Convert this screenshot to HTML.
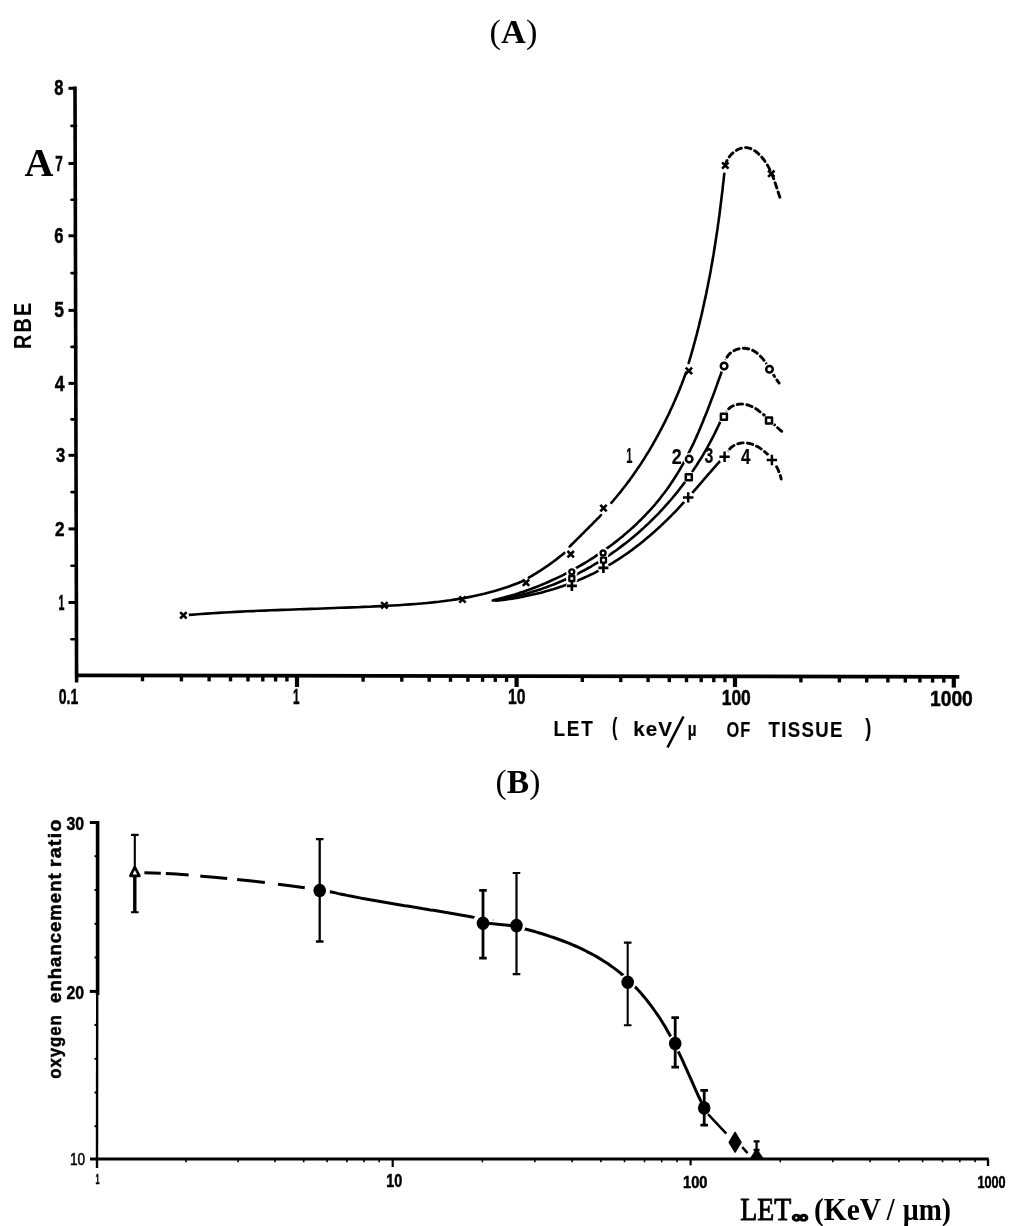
<!DOCTYPE html>
<html lang="en"><head><meta charset="utf-8"><title>Figure</title>
<style>
html,body{margin:0;padding:0;background:#fff;}
body{width:1024px;height:1226px;overflow:hidden;}
svg{display:block;}
.ser{font-family:"Liberation Serif",serif;}
.san{font-family:"Liberation Sans",sans-serif;font-weight:bold;}
</style></head><body>
<svg width="1024" height="1226" viewBox="0 0 1024 1226">
<rect width="1024" height="1226" fill="#fff"/>

<text class="ser" x="489.6" y="43.4" font-size="34" textLength="47.8" lengthAdjust="spacingAndGlyphs">(<tspan font-weight="bold">A</tspan>)</text>
<text class="ser" x="495.6" y="792.5" font-size="34" textLength="44.8" lengthAdjust="spacingAndGlyphs">(<tspan font-weight="bold">B</tspan>)</text>
<text class="ser" x="24.5" y="176.2" font-size="40" font-weight="bold">A</text>
<g stroke="#000" fill="none" stroke-linecap="butt">
<line x1="75" y1="86.5" x2="76.6" y2="682.5" stroke-width="3.6"/>
<line x1="75" y1="675.3" x2="959.3" y2="676.8" stroke-width="3.8"/>
<line x1="68.5" y1="88.3" x2="76" y2="88.3" stroke-width="3"/>
<line x1="68.5" y1="163.5" x2="76" y2="163.5" stroke-width="3"/>
<line x1="68.5" y1="235.8" x2="76" y2="235.8" stroke-width="3"/>
<line x1="68.5" y1="310.4" x2="76" y2="310.4" stroke-width="3"/>
<line x1="68.5" y1="383.4" x2="76" y2="383.4" stroke-width="3"/>
<line x1="68.5" y1="455.3" x2="76" y2="455.3" stroke-width="3"/>
<line x1="68.5" y1="528.9" x2="76" y2="528.9" stroke-width="3"/>
<line x1="68.5" y1="602.5" x2="76" y2="602.5" stroke-width="3"/>
<line x1="71.5" y1="125.9" x2="76" y2="125.9" stroke-width="2.6" stroke-linecap="round"/>
<line x1="71.5" y1="199.7" x2="76" y2="199.7" stroke-width="2.6" stroke-linecap="round"/>
<line x1="71.5" y1="273.1" x2="76" y2="273.1" stroke-width="2.6" stroke-linecap="round"/>
<line x1="71.5" y1="346.9" x2="76" y2="346.9" stroke-width="2.6" stroke-linecap="round"/>
<line x1="71.5" y1="419.4" x2="76" y2="419.4" stroke-width="2.6" stroke-linecap="round"/>
<line x1="71.5" y1="492.1" x2="76" y2="492.1" stroke-width="2.6" stroke-linecap="round"/>
<line x1="71.5" y1="565.7" x2="76" y2="565.7" stroke-width="2.6" stroke-linecap="round"/>
<line x1="71.5" y1="639.2" x2="76" y2="639.2" stroke-width="2.6" stroke-linecap="round"/>
<line x1="142.5" y1="675" x2="142.5" y2="681.3" stroke-width="3.4"/>
<line x1="181.4" y1="675" x2="181.4" y2="681.4" stroke-width="3.4"/>
<line x1="209.1" y1="675" x2="209.1" y2="681.4" stroke-width="3.4"/>
<line x1="230.5" y1="675" x2="230.5" y2="681.4" stroke-width="3.4"/>
<line x1="248.0" y1="675" x2="248.0" y2="681.5" stroke-width="3.4"/>
<line x1="262.8" y1="675" x2="262.8" y2="681.5" stroke-width="3.4"/>
<line x1="275.6" y1="675" x2="275.6" y2="681.5" stroke-width="3.4"/>
<line x1="286.9" y1="675" x2="286.9" y2="681.5" stroke-width="3.4"/>
<line x1="297.0" y1="675" x2="297.0" y2="687" stroke-width="4.2"/>
<line x1="363.1" y1="675" x2="363.1" y2="681.7" stroke-width="3.4"/>
<line x1="401.8" y1="675" x2="401.8" y2="681.7" stroke-width="3.4"/>
<line x1="429.2" y1="675" x2="429.2" y2="681.8" stroke-width="3.4"/>
<line x1="450.5" y1="675" x2="450.5" y2="681.8" stroke-width="3.4"/>
<line x1="467.9" y1="675" x2="467.9" y2="681.8" stroke-width="3.4"/>
<line x1="482.6" y1="675" x2="482.6" y2="681.8" stroke-width="3.4"/>
<line x1="495.3" y1="675" x2="495.3" y2="681.9" stroke-width="3.4"/>
<line x1="506.6" y1="675" x2="506.6" y2="681.9" stroke-width="3.4"/>
<line x1="516.6" y1="675" x2="516.6" y2="687" stroke-width="4.2"/>
<line x1="582.3" y1="675" x2="582.3" y2="682.0" stroke-width="3.4"/>
<line x1="620.8" y1="675" x2="620.8" y2="682.1" stroke-width="3.4"/>
<line x1="648.1" y1="675" x2="648.1" y2="682.1" stroke-width="3.4"/>
<line x1="669.3" y1="675" x2="669.3" y2="682.1" stroke-width="3.4"/>
<line x1="686.5" y1="675" x2="686.5" y2="682.2" stroke-width="3.4"/>
<line x1="701.2" y1="675" x2="701.2" y2="682.2" stroke-width="3.4"/>
<line x1="713.8" y1="675" x2="713.8" y2="682.2" stroke-width="3.4"/>
<line x1="725.0" y1="675" x2="725.0" y2="682.2" stroke-width="3.4"/>
<line x1="735.0" y1="675" x2="735.0" y2="687" stroke-width="4.2"/>
<line x1="800.9" y1="675" x2="800.9" y2="682.4" stroke-width="3.4"/>
<line x1="839.4" y1="675" x2="839.4" y2="682.4" stroke-width="3.4"/>
<line x1="866.7" y1="675" x2="866.7" y2="682.5" stroke-width="3.4"/>
<line x1="887.9" y1="675" x2="887.9" y2="682.5" stroke-width="3.4"/>
<line x1="905.3" y1="675" x2="905.3" y2="682.5" stroke-width="3.4"/>
<line x1="919.9" y1="675" x2="919.9" y2="682.5" stroke-width="3.4"/>
<line x1="932.6" y1="675" x2="932.6" y2="682.6" stroke-width="3.4"/>
<line x1="943.8" y1="675" x2="943.8" y2="682.6" stroke-width="3.4"/>
<line x1="953.8" y1="675" x2="953.8" y2="687.6" stroke-width="4.2"/>
</g>
<text class="san" transform="translate(54.30 95.29) scale(0.772 1)" font-size="21.48" stroke="#000" stroke-width="0.50">8</text>
<text class="san" transform="translate(55.30 171.30) scale(0.596 1)" font-size="22.69" stroke="#000" stroke-width="0.50">7</text>
<text class="san" transform="translate(54.30 242.79) scale(0.772 1)" font-size="21.48" stroke="#000" stroke-width="0.50">6</text>
<text class="san" transform="translate(54.30 316.78) scale(0.802 1)" font-size="21.79" stroke="#000" stroke-width="0.50">5</text>
<text class="san" transform="translate(54.70 390.80) scale(0.820 1)" font-size="21.53" stroke="#000" stroke-width="0.50">4</text>
<text class="san" transform="translate(56.00 462.14) scale(0.795 1)" font-size="20.85" stroke="#000" stroke-width="0.50">3</text>
<text class="san" transform="translate(55.00 536.00) scale(0.823 1)" font-size="20.79" stroke="#000" stroke-width="0.50">2</text>
<text class="san" transform="translate(58.60 610.00) scale(0.497 1)" font-size="21.38" stroke="#000" stroke-width="0.50">1</text>
<text class="san" transform="translate(58.75 704.27) scale(0.622 1)" font-size="22.61" stroke="#000" stroke-width="0.50">0.1</text>
<text class="san" transform="translate(293.00 704.00) scale(0.519 1)" font-size="22.55" stroke="#000" stroke-width="0.50">1</text>
<text class="san" transform="translate(508.00 704.48) scale(0.704 1)" font-size="22.33" stroke="#000" stroke-width="0.50">10</text>
<text class="san" transform="translate(721.70 705.08) scale(0.781 1)" font-size="22.33" stroke="#000" stroke-width="0.50">100</text>
<text class="san" transform="translate(929.90 705.87) scale(0.855 1)" font-size="22.61" stroke="#000" stroke-width="0.50">1000</text>
<text class="san" transform="translate(30.90 348.90) rotate(-90) scale(0.841 1)" font-size="23.71" letter-spacing="2.50">RBE</text>
<text class="san" transform="translate(553.40 736.40) scale(0.881 1)" font-size="21.53" stroke="#000" stroke-width="0.15" letter-spacing="2.00">LET</text>
<text class="san" transform="translate(612.00 735.22) scale(0.704 1)" font-size="23.06" stroke="#000" stroke-width="0.15">(</text>
<text class="san" transform="translate(633.20 736.40) scale(1.012 1)" font-size="20.41" stroke="#000" stroke-width="0.15" letter-spacing="1.00">keV</text>
<text class="san" transform="translate(687.70 736.41) scale(0.776 1)" font-size="19.73" stroke="#000" stroke-width="0.15">µ</text>
<text class="san" transform="translate(726.40 736.59) scale(0.773 1)" font-size="21.20" stroke="#000" stroke-width="0.15" letter-spacing="1.50">OF</text>
<text class="san" transform="translate(768.60 736.79) scale(0.878 1)" font-size="21.20" stroke="#000" stroke-width="0.15" letter-spacing="1.50">TISSUE</text>
<text class="san" transform="translate(865.20 735.72) scale(0.783 1)" font-size="23.06" stroke="#000" stroke-width="0.15">)</text>
<line x1="667.5" y1="747.5" x2="683.5" y2="716.5" stroke="#000" stroke-width="2.6"/>
<g stroke="#000" fill="none" stroke-width="2.6" stroke-linecap="round" stroke-linejoin="round">
<path d="M183.4 615.4 L189.2 614.9 L195.0 614.5 L200.8 614.0 L206.6 613.6 L212.3 613.2 L218.1 612.9 L223.9 612.5 L229.7 612.2 L235.5 611.9 L241.3 611.6 L247.1 611.3 L252.9 611.1 L258.7 610.8 L264.5 610.6 L270.4 610.3 L276.2 610.1 L282.0 609.9 L287.8 609.7 L293.6 609.5 L299.4 609.3 L305.2 609.1 L311.0 608.9 L316.9 608.7 L322.7 608.5 L328.5 608.3 L334.3 608.0 L340.1 607.8 L345.9 607.6 L351.8 607.4 L357.6 607.2 L363.4 606.9 L369.2 606.7 L375.0 606.4 L380.8 606.1 L386.6 605.8 L392.5 605.5 L398.3 605.2 L404.1 604.8 L409.9 604.4 L415.7 604.0 L421.5 603.5 L427.2 603.0 L433.0 602.4 L438.8 601.8 L444.5 601.0 L450.3 600.3 L456.0 599.4 L461.7 598.5 L467.4 597.4 L473.1 596.3 L478.7 595.1 L484.3 593.8 L489.9 592.3 L495.5 590.8 L501.1 589.1 L506.6 587.3 L512.1 585.3 L517.6 583.2 L523.0 581.0"/>
<path d="M528.8 577.6 L529.4 577.2 L530.1 576.9 L530.7 576.5 L531.3 576.1 L532.0 575.8 L532.6 575.4 L533.2 575.0 L533.9 574.6 L534.5 574.2 L535.1 573.9 L535.7 573.5 L536.4 573.1 L537.0 572.7 L537.6 572.3 L538.2 571.9 L538.8 571.5 L539.5 571.1 L540.1 570.8 L540.7 570.4 L541.3 570.0 L541.9 569.6 L542.5 569.2 L543.1 568.7 L543.8 568.3 L544.4 567.9 L545.0 567.5 L545.6 567.1 L546.2 566.7 L546.8 566.3 L547.4 565.9 L548.0 565.5 L548.6 565.0 L549.2 564.6 L549.8 564.2 L550.4 563.8 L551.0 563.3 L551.6 562.9 L552.2 562.5 L552.8 562.0 L553.4 561.6 L553.9 561.2 L554.5 560.7 L555.1 560.3 L555.7 559.9 L556.3 559.4 L556.9 559.0 L557.4 558.5 L558.0 558.1 L558.6 557.6 L559.2 557.2 L559.8 556.7 L560.3 556.2 L560.9 555.8 L561.5 555.3 L562.0 554.9 L562.6 554.4 L563.2 553.9 L563.7 553.5 L564.3 553.0"/>
<path d="M569.6 546.6 L570.1 546.1 L570.7 545.5 L571.2 545.0 L571.7 544.5 L572.3 544.0 L572.8 543.4 L573.3 542.9 L573.9 542.4 L574.4 541.8 L575.0 541.3 L575.5 540.8 L576.0 540.2 L576.6 539.7 L577.1 539.2 L577.6 538.7 L578.2 538.1 L578.7 537.6 L579.2 537.1 L579.8 536.5 L580.3 536.0 L580.8 535.5 L581.4 534.9 L581.9 534.4 L582.4 533.9 L583.0 533.3 L583.5 532.8 L584.0 532.3 L584.6 531.7 L585.1 531.2 L585.6 530.7 L586.1 530.2 L586.7 529.6 L587.2 529.1 L587.7 528.6 L588.3 528.0 L588.8 527.5 L589.3 527.0 L589.9 526.4 L590.4 525.9 L590.9 525.4 L591.5 524.8 L592.0 524.3 L592.5 523.8 L593.1 523.2 L593.6 522.7 L594.1 522.2 L594.6 521.6 L595.2 521.1 L595.7 520.6 L596.2 520.0 L596.8 519.5 L597.3 518.9 L597.8 518.4 L598.4 517.9 L598.9 517.3 L599.4 516.8 L599.9 516.3 L600.5 515.7 L601.0 515.2"/>
<path d="M611.3 502.9 L613.0 501.0 L614.6 499.0 L616.3 497.0 L617.9 495.0 L619.5 493.1 L621.2 491.1 L622.7 489.0 L624.3 487.0 L625.9 485.0 L627.4 482.9 L629.0 480.9 L630.5 478.8 L632.0 476.7 L633.5 474.6 L634.9 472.5 L636.4 470.4 L637.8 468.3 L639.3 466.2 L640.7 464.1 L642.1 461.9 L643.5 459.8 L644.8 457.6 L646.2 455.4 L647.5 453.2 L648.9 451.1 L650.2 448.9 L651.5 446.7 L652.8 444.4 L654.0 442.2 L655.3 440.0 L656.5 437.7 L657.8 435.5 L659.0 433.2 L660.2 431.0 L661.4 428.7 L662.6 426.4 L663.7 424.2 L664.9 421.9 L666.0 419.6 L667.1 417.3 L668.3 415.0 L669.4 412.6 L670.4 410.3 L671.5 408.0 L672.6 405.7 L673.6 403.3 L674.7 401.0 L675.7 398.6 L676.7 396.3 L677.7 393.9 L678.7 391.5 L679.7 389.2 L680.6 386.8 L681.6 384.4 L682.5 382.0 L683.4 379.6 L684.3 377.2 L685.2 374.8 L686.1 372.4"/>
<path d="M688.7 363.0 L689.6 359.8 L690.6 356.7 L691.5 353.5 L692.4 350.4 L693.3 347.2 L694.1 344.1 L695.0 340.9 L695.8 337.8 L696.7 334.6 L697.5 331.4 L698.3 328.3 L699.1 325.1 L699.8 321.9 L700.6 318.7 L701.4 315.6 L702.1 312.4 L702.8 309.2 L703.5 306.0 L704.2 302.8 L704.9 299.6 L705.6 296.4 L706.3 293.2 L706.9 290.0 L707.6 286.8 L708.2 283.6 L708.8 280.4 L709.5 277.2 L710.1 274.0 L710.7 270.8 L711.2 267.6 L711.8 264.4 L712.4 261.1 L712.9 257.9 L713.5 254.7 L714.0 251.5 L714.5 248.3 L715.0 245.0 L715.5 241.8 L716.0 238.6 L716.5 235.3 L717.0 232.1 L717.5 228.9 L717.9 225.6 L718.4 222.4 L718.8 219.2 L719.3 215.9 L719.7 212.7 L720.1 209.4 L720.5 206.2 L720.9 202.9 L721.3 199.7 L721.7 196.4 L722.1 193.2 L722.5 189.9 L722.8 186.7 L723.2 183.4 L723.6 180.2 L723.9 176.9 L724.3 173.7"/>
<path d="M725.4 165.7 L725.8 164.0 L726.3 162.4 L726.9 160.8 L727.7 159.3 L728.6 157.8 L729.6 156.4 L730.7 155.1 L731.9 153.8 L733.2 152.7 L734.5 151.6 L735.9 150.7 L737.3 149.8 L738.8 149.1 L740.3 148.5 L741.8 148.1 L743.3 147.7 L744.8 147.6 L746.3 147.6 L747.8 147.8 L749.3 148.1 L750.7 148.6 L752.2 149.3 L753.5 150.0 L754.9 150.9 L756.2 151.8 L757.5 152.9 L758.7 154.0 L759.9 155.2 L761.1 156.4 L762.2 157.7 L763.3 159.0 L764.3 160.3 L765.2 161.7 L766.1 163.1 L767.0 164.5 L767.9 165.9 L768.7 167.4 L769.4 168.8 L770.1 170.3 L770.8 171.8 L771.5 173.3 L772.2 174.8 L772.8 176.4 L773.4 177.9 L773.9 179.5 L774.5 181.0 L775.0 182.6 L775.6 184.1 L776.1 185.7 L776.6 187.2 L777.1 188.8 L777.6 190.4 L778.1 191.9 L778.6 193.5 L779.1 195.0 L779.6 196.5 L780.1 198.0 L780.6 199.5 L781.2 201.0" stroke-dasharray="5.5 4.2" stroke-width="2.9"/>
<path d="M492.7 600.4 L495.5 599.7 L498.3 599.0 L501.1 598.3 L503.9 597.6 L506.7 596.8 L509.5 596.0 L512.2 595.2 L515.0 594.4 L517.8 593.5 L520.5 592.6 L523.3 591.7 L526.0 590.7 L528.8 589.8 L531.5 588.8 L534.2 587.7 L536.9 586.7 L539.6 585.6 L542.3 584.5 L545.0 583.4 L547.7 582.2 L550.3 581.0 L553.0 579.8 L555.6 578.6 L558.3 577.3 L560.9 576.1 L563.5 574.8 L566.1 573.4 L568.7 572.1 L571.3 570.7 L573.8 569.3 L576.4 567.9 L578.9 566.4 L581.4 565.0 L584.0 563.5 L586.5 562.0 L588.9 560.5 L591.4 558.9 L593.9 557.3 L596.3 555.7 L598.7 554.1 L601.1 552.5 L603.5 550.8 L605.9 549.1 L608.3 547.4 L610.6 545.7 L612.9 543.9 L615.3 542.1 L617.5 540.4 L619.8 538.5 L622.1 536.7 L624.3 534.8 L626.5 533.0 L628.7 531.1 L630.9 529.1 L633.0 527.2 L635.2 525.2 L637.3 523.2 L639.3 521.2 L641.4 519.2 L643.4 517.1 L645.5 515.0 L647.4 512.9 L649.4 510.8 L651.4 508.7 L653.3 506.5 L655.2 504.3 L657.0 502.1 L658.9 499.9 L660.7 497.6 L662.4 495.3 L664.2 493.0 L665.9 490.7 L667.6 488.4 L669.3 486.0 L670.9 483.6 L672.5 481.2 L674.1 478.8 L675.7 476.3 L677.2 473.8 L678.7 471.4 L680.2 468.8 L681.6 466.3 L683.1 463.8 L684.5 461.2 L685.8 458.6 L687.2 456.0 L688.5 453.4 L689.8 450.8 L691.1 448.2 L692.4 445.6 L693.7 442.9 L694.9 440.2 L696.1 437.6 L697.3 434.9 L698.5 432.2 L699.6 429.5 L700.8 426.8 L701.9 424.1 L703.0 421.4 L704.1 418.6 L705.2 415.9 L706.3 413.2 L707.4 410.5 L708.4 407.7 L709.5 405.0 L710.5 402.3 L711.5 399.5 L712.6 396.8 L713.6 394.1 L714.6 391.4 L715.6 388.6 L716.6 385.9 L717.5 383.2 L718.5 380.5 L719.5 377.8 L720.5 375.1 L721.4 372.4 L722.4 369.7 L723.4 367.1"/>
<path d="M723.9 366.3 L724.1 364.6 L724.5 363.0 L724.9 361.5 L725.5 360.0 L726.1 358.7 L726.8 357.4 L727.6 356.2 L728.4 355.1 L729.3 354.1 L730.3 353.2 L731.3 352.3 L732.4 351.6 L733.6 350.9 L734.7 350.3 L735.9 349.7 L737.1 349.3 L738.4 348.9 L739.7 348.7 L741.0 348.5 L742.3 348.3 L743.6 348.3 L744.9 348.3 L746.2 348.5 L747.5 348.7 L748.7 348.9 L750.0 349.3 L751.2 349.7 L752.4 350.2 L753.6 350.8 L754.7 351.5 L755.8 352.2 L756.9 353.0 L757.9 353.9 L758.9 354.8 L759.9 355.7 L760.9 356.7 L761.9 357.8 L762.8 358.9 L763.7 360.0 L764.6 361.1 L765.4 362.3 L766.3 363.5 L767.1 364.7 L767.9 365.9 L768.7 367.2 L769.5 368.4 L770.3 369.7 L771.1 370.9 L771.8 372.1 L772.6 373.3 L773.3 374.5 L774.1 375.7 L774.8 376.9 L775.5 378.0 L776.2 379.1 L777.0 380.1 L777.7 381.2 L778.4 382.1 L779.1 383.0" stroke-dasharray="5.5 4.2" stroke-width="2.9"/>
<path d="M493.7 600.3 L496.3 599.9 L498.9 599.5 L501.5 599.1 L504.0 598.6 L506.6 598.1 L509.1 597.6 L511.7 597.1 L514.2 596.5 L516.7 596.0 L519.3 595.3 L521.8 594.7 L524.3 594.1 L526.8 593.4 L529.3 592.7 L531.7 592.0 L534.2 591.2 L536.7 590.5 L539.1 589.7 L541.6 588.9 L544.0 588.0 L546.4 587.2 L548.8 586.3 L551.2 585.4 L553.6 584.5 L556.0 583.5 L558.4 582.5 L560.7 581.5 L563.1 580.5 L565.4 579.5 L567.8 578.4 L570.1 577.4 L572.4 576.3 L574.7 575.2 L577.0 574.0 L579.3 572.9 L581.5 571.7 L583.8 570.5 L586.0 569.3 L588.3 568.0 L590.5 566.8 L592.7 565.5 L594.9 564.2 L597.1 562.9 L599.3 561.5 L601.4 560.2 L603.6 558.8 L605.7 557.4 L607.9 556.0 L610.0 554.6 L612.1 553.1 L614.2 551.7 L616.3 550.2 L618.3 548.7 L620.4 547.1 L622.4 545.6 L624.4 544.1 L626.5 542.5 L628.5 540.9 L630.5 539.3 L632.4 537.7 L634.4 536.0 L636.3 534.4 L638.3 532.7 L640.2 531.0 L642.1 529.3 L644.0 527.6 L645.9 525.8 L647.8 524.1 L649.6 522.3 L651.4 520.5 L653.3 518.7 L655.1 516.9 L656.9 515.1 L658.7 513.3 L660.4 511.4 L662.2 509.5 L663.9 507.6 L665.6 505.7 L667.3 503.8 L669.0 501.9 L670.7 500.0 L672.4 498.0 L674.0 496.0 L675.6 494.1 L677.3 492.1 L678.9 490.0 L680.4 488.0 L682.0 486.0 L683.6 483.9 L685.1 481.9 L686.6 479.8 L688.1 477.7 L689.6 475.6 L691.1 473.5 L692.5 471.4 L693.9 469.3 L695.4 467.1 L696.8 465.0 L698.1 462.8 L699.5 460.6 L700.9 458.5 L702.2 456.3 L703.5 454.1 L704.8 451.8 L706.1 449.6 L707.4 447.4 L708.6 445.1 L709.8 442.9 L711.0 440.6 L712.2 438.3 L713.4 436.0 L714.6 433.7 L715.7 431.4 L716.8 429.1 L717.9 426.8 L719.0 424.5 L720.1 422.1 L721.1 419.8 L722.1 417.4"/>
<path d="M723.6 416.9 L724.1 415.5 L724.7 414.1 L725.4 412.9 L726.1 411.7 L726.9 410.7 L727.8 409.7 L728.7 408.8 L729.6 408.0 L730.6 407.2 L731.7 406.6 L732.7 406.0 L733.8 405.5 L735.0 405.1 L736.1 404.7 L737.3 404.5 L738.5 404.2 L739.7 404.1 L740.8 404.0 L742.0 404.1 L743.2 404.1 L744.4 404.3 L745.6 404.5 L746.7 404.7 L747.9 405.0 L749.0 405.4 L750.1 405.8 L751.2 406.3 L752.3 406.8 L753.4 407.4 L754.5 408.0 L755.6 408.6 L756.7 409.3 L757.7 410.0 L758.8 410.8 L759.8 411.6 L760.9 412.4 L761.9 413.2 L762.9 414.0 L763.9 414.9 L764.9 415.8 L765.9 416.7 L766.9 417.6 L767.9 418.5 L768.8 419.4 L769.8 420.3 L770.8 421.2 L771.7 422.1 L772.6 423.1 L773.6 424.0 L774.5 424.8 L775.4 425.7 L776.3 426.6 L777.2 427.4 L778.1 428.2 L779.0 429.0 L779.8 429.8 L780.7 430.5 L781.6 431.2 L782.4 431.9" stroke-dasharray="5.5 4.2" stroke-width="2.9"/>
<path d="M496.0 600.8 L498.3 600.5 L500.6 600.2 L502.9 600.0 L505.2 599.7 L507.6 599.3 L509.9 599.0 L512.2 598.6 L514.5 598.3 L516.8 597.9 L519.1 597.5 L521.4 597.0 L523.7 596.6 L526.0 596.1 L528.3 595.6 L530.6 595.1 L532.9 594.6 L535.2 594.1 L537.5 593.5 L539.7 593.0 L542.0 592.4 L544.3 591.8 L546.5 591.1 L548.8 590.5 L551.1 589.8 L553.3 589.2 L555.6 588.5 L557.8 587.7 L560.0 587.0 L562.2 586.3 L564.5 585.5 L566.7 584.7 L568.9 583.9 L571.1 583.1 L573.3 582.2 L575.4 581.4 L577.6 580.5 L579.8 579.6 L581.9 578.7 L584.1 577.7 L586.2 576.8 L588.3 575.8 L590.5 574.8 L592.6 573.8 L594.7 572.8 L596.8 571.7 L598.8 570.6 L600.9 569.5 L603.0 568.4 L605.0 567.3 L607.0 566.2 L609.0 565.0 L611.1 563.8 L613.1 562.6 L615.0 561.4 L617.0 560.2 L619.0 558.9 L620.9 557.6 L622.9 556.3 L624.8 555.0 L626.7 553.7 L628.6 552.4 L630.5 551.0 L632.4 549.6 L634.2 548.2 L636.1 546.8 L637.9 545.4 L639.8 544.0 L641.6 542.5 L643.4 541.1 L645.2 539.6 L647.0 538.1 L648.8 536.6 L650.6 535.0 L652.3 533.5 L654.1 532.0 L655.8 530.4 L657.6 528.8 L659.3 527.2 L661.0 525.6 L662.7 524.0 L664.4 522.4 L666.1 520.8 L667.8 519.1 L669.4 517.5 L671.1 515.8 L672.7 514.2 L674.4 512.5 L676.0 510.8 L677.6 509.1 L679.2 507.4 L680.8 505.7 L682.4 503.9 L684.0 502.2 L685.6 500.5 L687.2 498.7 L688.7 497.0 L690.3 495.2 L691.8 493.4 L693.4 491.7 L694.9 489.9 L696.5 488.1 L698.0 486.3 L699.5 484.6 L701.1 482.8 L702.6 481.0 L704.1 479.2 L705.7 477.5 L707.2 475.7 L708.7 473.9 L710.3 472.2 L711.8 470.4 L713.3 468.6 L714.9 466.9 L716.4 465.2 L718.0 463.4 L719.6 461.7 L721.1 460.0 L722.7 458.3 L724.3 456.6"/>
<path d="M724.4 457.0 L725.2 455.4 L726.0 453.9 L726.8 452.6 L727.7 451.3 L728.6 450.1 L729.6 449.0 L730.6 448.0 L731.6 447.1 L732.7 446.3 L733.8 445.6 L734.9 445.0 L736.0 444.4 L737.2 444.0 L738.4 443.6 L739.6 443.3 L740.8 443.1 L742.0 442.9 L743.3 442.9 L744.5 442.8 L745.8 442.9 L747.1 443.1 L748.3 443.3 L749.6 443.5 L750.9 443.9 L752.1 444.2 L753.4 444.7 L754.6 445.2 L755.8 445.8 L757.1 446.4 L758.3 447.1 L759.5 447.8 L760.6 448.6 L761.8 449.4 L762.9 450.2 L764.0 451.1 L765.1 452.1 L766.1 453.0 L767.2 454.0 L768.2 455.1 L769.1 456.1 L770.1 457.2 L771.0 458.4 L771.9 459.5 L772.8 460.7 L773.6 461.9 L774.4 463.1 L775.1 464.3 L775.9 465.5 L776.6 466.7 L777.2 468.0 L777.8 469.2 L778.4 470.4 L778.9 471.7 L779.4 472.9 L779.9 474.2 L780.3 475.4 L780.6 476.6 L780.9 477.8 L781.2 479.0" stroke-dasharray="5.5 4.2" stroke-width="2.9"/>
</g>
<circle cx="183.4" cy="615.3" r="5.5" fill="#fff"/>
<circle cx="571.8" cy="571.8" r="5.8" fill="#fff"/>
<circle cx="603.1" cy="553.0" r="5.8" fill="#fff"/>
<circle cx="689.2" cy="459.1" r="6.2" fill="#fff"/>
<circle cx="724.1" cy="366.0" r="6.2" fill="#fff"/>
<circle cx="769.5" cy="369.3" r="6.2" fill="#fff"/>
<circle cx="571.8" cy="578.5" r="5.8" fill="#fff"/>
<circle cx="603.5" cy="560.1" r="5.8" fill="#fff"/>
<circle cx="688.8" cy="477.2" r="6.2" fill="#fff"/>
<circle cx="723.9" cy="416.8" r="6.2" fill="#fff"/>
<circle cx="769.0" cy="420.5" r="6.2" fill="#fff"/>
<circle cx="571.9" cy="585.9" r="5.8" fill="#fff"/>
<circle cx="603.4" cy="567.9" r="5.8" fill="#fff"/>
<circle cx="688.2" cy="497.4" r="6.2" fill="#fff"/>
<circle cx="724.6" cy="456.8" r="6.2" fill="#fff"/>
<circle cx="771.9" cy="460.0" r="6.2" fill="#fff"/>
<path d="M180.2 612.1L186.6 618.5M180.2 618.5L186.6 612.1" stroke="#000" stroke-width="2.6" fill="none"/>
<path d="M381.2 602.1L387.6 608.5M381.2 608.5L387.6 602.1" stroke="#000" stroke-width="2.6" fill="none"/>
<path d="M459.3 596.3L465.7 602.7M459.3 602.7L465.7 596.3" stroke="#000" stroke-width="2.6" fill="none"/>
<path d="M522.8 579.5L529.2 585.9M522.8 585.9L529.2 579.5" stroke="#000" stroke-width="2.6" fill="none"/>
<path d="M567.5 551.0L573.9 557.4M567.5 557.4L573.9 551.0" stroke="#000" stroke-width="2.6" fill="none"/>
<path d="M600.3 504.9L606.7 511.3M600.3 511.3L606.7 504.9" stroke="#000" stroke-width="2.6" fill="none"/>
<path d="M685.7 367.7L692.1 374.1M685.7 374.1L692.1 367.7" stroke="#000" stroke-width="2.6" fill="none"/>
<path d="M722.1 162.3L728.5 168.7M722.1 168.7L728.5 162.3" stroke="#000" stroke-width="2.6" fill="none"/>
<path d="M768.1 170.5L774.5 176.9M768.1 176.9L774.5 170.5" stroke="#000" stroke-width="2.6" fill="none"/>
<path d="M566.9 585.9L576.9 585.9M571.9 580.9L571.9 590.9" stroke="#000" stroke-width="2.6" fill="none"/>
<path d="M598.4 567.9L608.4 567.9M603.4 562.9L603.4 572.9" stroke="#000" stroke-width="2.6" fill="none"/>
<path d="M683.0 497.4L693.4 497.4M688.2 492.2L688.2 502.6" stroke="#000" stroke-width="2.5" fill="none"/>
<path d="M719.4 456.8L729.8 456.8M724.6 451.6L724.6 462.0" stroke="#000" stroke-width="2.5" fill="none"/>
<path d="M766.7 460.0L777.1 460.0M771.9 454.8L771.9 465.2" stroke="#000" stroke-width="2.5" fill="none"/>
<circle cx="571.8" cy="571.8" r="2.5" stroke="#000" stroke-width="2.3" fill="#fff"/>
<circle cx="603.1" cy="553.0" r="2.5" stroke="#000" stroke-width="2.3" fill="#fff"/>
<circle cx="689.2" cy="459.1" r="3.3" stroke="#000" stroke-width="2.5" fill="#fff"/>
<circle cx="724.1" cy="366.0" r="3.3" stroke="#000" stroke-width="2.5" fill="#fff"/>
<circle cx="769.5" cy="369.3" r="3.3" stroke="#000" stroke-width="2.5" fill="#fff"/>
<rect x="569.3" y="576.0" width="5.0" height="5.0" stroke="#000" stroke-width="2.3" fill="#fff" stroke-linejoin="round"/>
<rect x="601.0" y="557.6" width="5.0" height="5.0" stroke="#000" stroke-width="2.3" fill="#fff" stroke-linejoin="round"/>
<rect x="685.8" y="474.2" width="6.0" height="6.0" stroke="#000" stroke-width="2.5" fill="#fff" stroke-linejoin="round"/>
<rect x="720.9" y="413.8" width="6.0" height="6.0" stroke="#000" stroke-width="2.5" fill="#fff" stroke-linejoin="round"/>
<rect x="766.0" y="417.5" width="6.0" height="6.0" stroke="#000" stroke-width="2.5" fill="#fff" stroke-linejoin="round"/>
<text class="san" transform="translate(626.30 463.20) scale(0.512 1)" font-size="21.82" stroke="#000" stroke-width="0.20">1</text>
<text class="san" transform="translate(671.80 463.50) scale(0.813 1)" font-size="21.94" stroke="#000" stroke-width="0.20">2</text>
<text class="san" transform="translate(704.50 463.23) scale(0.736 1)" font-size="21.55" stroke="#000" stroke-width="0.20">3</text>
<text class="san" transform="translate(741.00 463.50) scale(0.761 1)" font-size="22.25" stroke="#000" stroke-width="0.20">4</text>
<g stroke="#000" fill="none">
<line x1="97.6" y1="821" x2="97.6" y2="995" stroke-width="3.6"/>
<line x1="97.2" y1="995" x2="97" y2="1168" stroke-width="2.4"/>
<line x1="90" y1="1159" x2="988.7" y2="1159" stroke-width="2.9"/>
<line x1="89.8" y1="822.5" x2="98" y2="822.5" stroke-width="3"/>
<line x1="89.8" y1="991.4" x2="98" y2="991.4" stroke-width="3"/>
<line x1="94.5" y1="856.2" x2="98" y2="856.2" stroke-width="2"/>
<line x1="94.5" y1="890.0" x2="98" y2="890.0" stroke-width="2"/>
<line x1="94.5" y1="923.8" x2="98" y2="923.8" stroke-width="2"/>
<line x1="94.5" y1="957.5" x2="98" y2="957.5" stroke-width="2"/>
<line x1="94.5" y1="1025.0" x2="98" y2="1025.0" stroke-width="2"/>
<line x1="94.5" y1="1058.8" x2="98" y2="1058.8" stroke-width="2"/>
<line x1="94.5" y1="1092.5" x2="98" y2="1092.5" stroke-width="2"/>
<line x1="94.5" y1="1126.2" x2="98" y2="1126.2" stroke-width="2"/>
<line x1="186.0" y1="1159" x2="186.0" y2="1162.3" stroke-width="1.6"/>
<line x1="238.1" y1="1159" x2="238.1" y2="1162.3" stroke-width="1.6"/>
<line x1="275.0" y1="1159" x2="275.0" y2="1162.3" stroke-width="1.6"/>
<line x1="303.7" y1="1159" x2="303.7" y2="1162.3" stroke-width="1.6"/>
<line x1="327.1" y1="1159" x2="327.1" y2="1162.3" stroke-width="1.6"/>
<line x1="346.9" y1="1159" x2="346.9" y2="1162.3" stroke-width="1.6"/>
<line x1="364.0" y1="1159" x2="364.0" y2="1162.3" stroke-width="1.6"/>
<line x1="379.2" y1="1159" x2="379.2" y2="1162.3" stroke-width="1.6"/>
<line x1="392.7" y1="1159" x2="392.7" y2="1167.0" stroke-width="2.2"/>
<line x1="482.4" y1="1159" x2="482.4" y2="1162.3" stroke-width="1.6"/>
<line x1="534.8" y1="1159" x2="534.8" y2="1162.3" stroke-width="1.6"/>
<line x1="572.1" y1="1159" x2="572.1" y2="1162.3" stroke-width="1.6"/>
<line x1="600.9" y1="1159" x2="600.9" y2="1162.3" stroke-width="1.6"/>
<line x1="624.5" y1="1159" x2="624.5" y2="1162.3" stroke-width="1.6"/>
<line x1="644.5" y1="1159" x2="644.5" y2="1162.3" stroke-width="1.6"/>
<line x1="661.7" y1="1159" x2="661.7" y2="1162.3" stroke-width="1.6"/>
<line x1="677.0" y1="1159" x2="677.0" y2="1162.3" stroke-width="1.6"/>
<line x1="690.6" y1="1159" x2="690.6" y2="1165.3" stroke-width="2.2"/>
<line x1="780.3" y1="1159" x2="780.3" y2="1162.3" stroke-width="1.6"/>
<line x1="832.8" y1="1159" x2="832.8" y2="1162.3" stroke-width="1.6"/>
<line x1="870.1" y1="1159" x2="870.1" y2="1162.3" stroke-width="1.6"/>
<line x1="899.0" y1="1159" x2="899.0" y2="1162.3" stroke-width="1.6"/>
<line x1="922.6" y1="1159" x2="922.6" y2="1162.3" stroke-width="1.6"/>
<line x1="942.5" y1="1159" x2="942.5" y2="1162.3" stroke-width="1.6"/>
<line x1="959.8" y1="1159" x2="959.8" y2="1162.3" stroke-width="1.6"/>
<line x1="975.1" y1="1159" x2="975.1" y2="1162.3" stroke-width="1.6"/>
<line x1="988" y1="1159" x2="988" y2="1166" stroke-width="2.4"/>
</g>
<text class="san" transform="translate(66.40 830.08) scale(0.884 1)" font-size="17.89" stroke="#000" stroke-width="0.50">30</text>
<text class="san" transform="translate(66.40 999.02) scale(0.881 1)" font-size="17.95" stroke="#000" stroke-width="0.50">20</text>
<text class="san" style="font-weight:normal" transform="translate(70.00 1164.83) scale(0.819 1)" font-size="16.68" stroke="#000" stroke-width="0.50">10</text>
<text class="san" transform="translate(95.50 1183.50) scale(0.463 1)" font-size="15.56" stroke="#000" stroke-width="0.50">1</text>
<text class="san" transform="translate(386.30 1187.12) scale(0.801 1)" font-size="17.95" stroke="#000" stroke-width="0.50">10</text>
<text class="san" transform="translate(683.10 1187.94) scale(0.924 1)" font-size="15.83" stroke="#000" stroke-width="0.50">100</text>
<text class="san" transform="translate(977.50 1187.94) scale(0.798 1)" font-size="15.83" stroke="#000" stroke-width="0.50">1000</text>
<text class="san" transform="translate(60.60 1078.70) rotate(-90) scale(0.907 1)" font-size="18.58" stroke="#000" stroke-width="0.50" letter-spacing="1.00">oxygen</text>
<text class="san" transform="translate(60.60 1002.90) rotate(-90) scale(0.999 1)" font-size="18.58" stroke="#000" stroke-width="0.50" letter-spacing="1.00">enhancement</text>
<text class="san" transform="translate(60.60 867.20) rotate(-90) scale(1.075 1)" font-size="18.58" stroke="#000" stroke-width="0.50" letter-spacing="1.00">ratio</text>
<text class="ser" transform="translate(740.30 1219.80) scale(0.885 1)" font-size="31.45" stroke="#000" stroke-width="0.90">LET</text>
<text class="ser" font-weight="bold" transform="translate(792.50 1221.80) scale(1.375 1)" font-size="15.42" stroke="#000" stroke-width="2.00">∞</text>
<text class="ser" font-weight="bold" transform="translate(814.00 1219.80) scale(0.938 1)" font-size="31.45">(KeV</text>
<text class="ser" font-weight="bold" transform="translate(886.78 1219.80) scale(0.901 1)" font-size="31.45">/</text>
<text class="ser" font-weight="bold" transform="translate(902.80 1219.80) scale(0.881 1)" font-size="31.45">µm)</text>
<g stroke="#000" fill="none" stroke-width="3" stroke-linecap="butt">
<path d="M144.4 872.7 C149.7 872.9 164.4 873.2 176.0 874.0 C187.6 874.8 201.3 876.1 214.0 877.3 C226.7 878.5 239.3 879.7 252.0 881.1 C264.7 882.5 280.3 884.5 290.0 885.7 C299.7 886.9 306.7 888.0 310.0 888.5" stroke-dasharray="16.5 5 23 11.5 27 10 28 13 27 100"/>
<path d="M329.8 891.7 L332.7 892.3 L335.6 892.9 L338.5 893.6 L341.3 894.2 L344.2 894.8 L347.1 895.4 L350.0 895.9 L352.9 896.5 L355.8 897.1 L358.6 897.6 L361.5 898.2 L364.4 898.7 L367.3 899.2 L370.2 899.8 L373.1 900.3 L375.9 900.8 L378.8 901.3 L381.7 901.8 L384.6 902.3 L387.5 902.8 L390.3 903.3 L393.2 903.8 L396.1 904.2 L399.0 904.7 L401.9 905.2 L404.7 905.7 L407.6 906.1 L410.5 906.6 L413.4 907.1 L416.3 907.5 L419.1 908.0 L422.0 908.5 L424.9 908.9 L427.8 909.4 L430.6 909.9 L433.5 910.3 L436.4 910.8 L439.3 911.3 L442.1 911.8 L445.0 912.3 L447.9 912.7 L450.7 913.2 L453.6 913.7 L456.5 914.2 L459.4 914.7 L462.2 915.3 L465.1 915.8 L468.0 916.3 L470.8 916.8 L473.7 917.4 L476.6 917.9 L479.4 918.5 L482.3 919.1 L485.2 919.7 L488.0 920.2 L490.9 920.8 L493.8 921.4 L496.6 922.1 L499.5 922.7 L502.3 923.3 L505.2 924.0 L508.1 924.7 L510.9 925.3 L513.8 926.0 L516.7 926.7 L519.5 927.5 L522.4 928.2 L525.2 929.0 L528.1 929.7 L530.9 930.5 L533.8 931.3 L536.6 932.1 L539.4 933.0 L542.3 933.8 L545.1 934.7 L547.9 935.6 L550.7 936.6 L553.5 937.5 L556.3 938.5 L559.0 939.5 L561.8 940.5 L564.5 941.5 L567.3 942.6 L570.0 943.7 L572.7 944.9 L575.3 946.0 L578.0 947.2 L580.7 948.4 L583.3 949.7 L585.9 951.0 L588.5 952.3 L591.0 953.6 L593.6 955.0 L596.1 956.4 L598.6 957.9 L601.1 959.4 L603.5 960.9 L606.0 962.5 L608.4 964.1 L610.7 965.7 L613.1 967.4 L615.4 969.1 L617.7 970.9 L619.9 972.7 L622.1 974.5 L624.3 976.4 L626.5 978.4 L628.6 980.3 L630.7 982.4 L632.8 984.4 L634.8 986.5 L636.8 988.6 L638.8 990.8 L640.8 992.9 L642.7 995.2 L644.6 997.4 L646.4 999.7 L648.2 1002.0 L650.0 1004.3 L651.8 1006.7 L653.5 1009.0 L655.2 1011.5 L656.9 1013.9 L658.6 1016.3 L660.2 1018.8 L661.8 1021.3 L663.3 1023.8 L664.9 1026.3 L666.4 1028.9 L667.8 1031.4 L669.3 1034.0 L670.7 1036.6 L672.1 1039.2 L673.4 1041.8 L674.8 1044.4 L676.1 1047.0 L677.4 1049.6 L678.7 1052.3 L679.9 1054.9 L681.2 1057.6 L682.4 1060.2 L683.6 1062.9 L684.8 1065.6 L686.0 1068.2 L687.2 1070.9 L688.4 1073.6 L689.6 1076.2 L690.8 1078.9 L692.0 1081.6 L693.1 1084.2 L694.3 1086.9 L695.5 1089.6 L696.7 1092.2 L697.9 1094.8 L699.1 1097.5 L700.4 1100.1 L701.6 1102.7 L702.9 1105.3 L704.1 1107.9"/>
<path d="M708 1114.2L726.3 1133.7M742.2 1147.2L747.6 1153.2" stroke-width="2.5"/>
</g>
<circle cx="319.7" cy="890.5" r="9.5" fill="#fff"/>
<circle cx="483.0" cy="923.3" r="10.5" fill="#fff"/>
<circle cx="500.0" cy="924.5" r="8.0" fill="#fff"/>
<circle cx="516.5" cy="925.6" r="9.0" fill="#fff"/>
<circle cx="627.7" cy="982.3" r="8.6" fill="#fff"/>
<circle cx="675.2" cy="1043.5" r="8.6" fill="#fff"/>
<path d="M483 922.8L516.5 926.2" stroke="#000" stroke-width="3" fill="none"/>
<path d="M134.8 834.9L134.8 912.3M131.0 834.9L138.6 834.9M131.0 912.3L138.6 912.3" stroke="#000" stroke-width="2.1" fill="none"/>
<path d="M134.8 873.6L134.8 912.3" stroke="#000" stroke-width="3.4" fill="none"/>
<path d="M319.7 839.2L319.7 941.5M315.9 839.2L323.5 839.2M315.9 941.5L323.5 941.5" stroke="#000" stroke-width="2.3" fill="none"/>
<path d="M483.0 890.3L483.0 958.1M479.2 890.3L486.8 890.3M479.2 958.1L486.8 958.1" stroke="#000" stroke-width="2.8" fill="none"/>
<path d="M516.5 873.0L516.5 974.1M512.7 873.0L520.3 873.0M512.7 974.1L520.3 974.1" stroke="#000" stroke-width="2.2" fill="none"/>
<path d="M627.7 942.6L627.7 1025.3M623.9 942.6L631.5 942.6M623.9 1025.3L631.5 1025.3" stroke="#000" stroke-width="2.1" fill="none"/>
<path d="M675.2 1017.7L675.2 1067.2M671.4 1017.7L679.0 1017.7M671.4 1067.2L679.0 1067.2" stroke="#000" stroke-width="2.8" fill="none"/>
<path d="M704.2 1090.4L704.2 1125.2M700.4 1090.4L708.0 1090.4M700.4 1125.2L708.0 1125.2" stroke="#000" stroke-width="2.8" fill="none"/>
<path d="M756.6 1141.3L756.6 1150.0M753.6 1141.3L759.6 1141.3M753.6 1150.0L759.6 1150.0" stroke="#000" stroke-width="2.3" fill="none"/>
<ellipse cx="319.7" cy="890.5" rx="6.3" ry="6.8" fill="#000"/>
<ellipse cx="483.0" cy="923.3" rx="6.3" ry="6.8" fill="#000"/>
<ellipse cx="516.5" cy="925.6" rx="6.3" ry="6.8" fill="#000"/>
<ellipse cx="627.7" cy="982.3" rx="6.3" ry="6.8" fill="#000"/>
<ellipse cx="675.2" cy="1043.5" rx="6.3" ry="6.8" fill="#000"/>
<ellipse cx="704.2" cy="1108.0" rx="6.3" ry="6.8" fill="#000"/>
<path d="M735.1 1132.5L741 1142.3L735.1 1152L729.2 1142.3Z" fill="#000" stroke="#000" stroke-width="1.5" stroke-linejoin="round"/>
<path d="M756.6 1148L764 1159L749.5 1159Z" fill="#000"/>
<path d="M134.8 867.2L139.4 875.8L130.4 875.8Z" fill="#fff" stroke="#000" stroke-width="2.7" stroke-linejoin="round"/>
</svg></body></html>
